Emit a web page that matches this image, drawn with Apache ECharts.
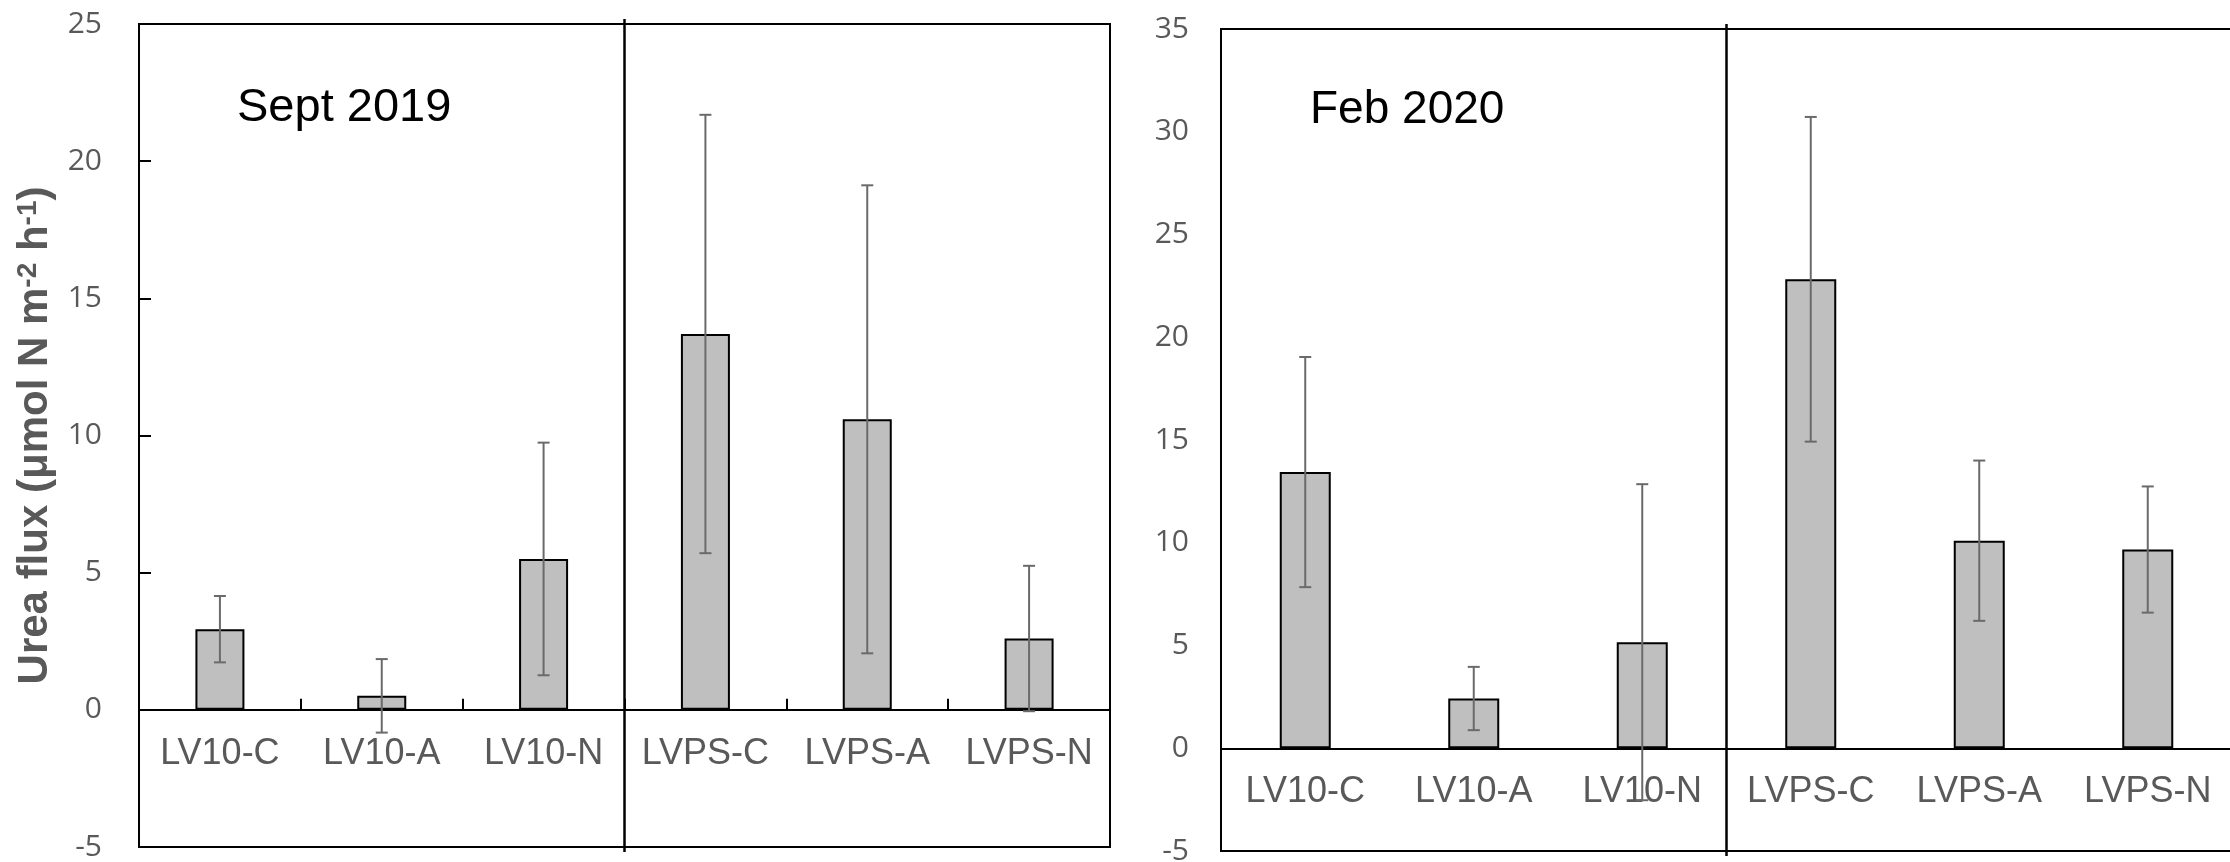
<!DOCTYPE html>
<html>
<head>
<meta charset="utf-8">
<script src="https://cdn.jsdelivr.net/npm/echarts@6/dist/echarts.min.js"></script>
<style>
html,body{margin:0;padding:0;background:#fff;}
#chart{width:2230px;height:862px;}
</style>
</head>
<body>
<div id="chart"></div>
<script>
// ---- data ----
const categories = ['LV10-C', 'LV10-A', 'LV10-N', 'LVPS-C', 'LVPS-A', 'LVPS-N'];
const septMean = [2.94, 0.51, 5.50, 13.70, 10.59, 2.60];
const septErr  = [1.21, 1.34, 4.24, 7.99, 8.53, 2.65];
const febMean  = [13.44, 2.42, 5.16, 22.82, 10.10, 9.67];
const febErr   = [5.60, 1.54, 7.69, 7.90, 3.90, 3.07];
const panelTitles = ['Sept 2019', 'Feb 2020'];
const septAxis = { min: -5, max: 25, interval: 5 };
const febAxis  = { min: -5, max: 35, interval: 5 };
const siteSplit = [2, 3]; // divider between LV10 and LVPS groups
const yTitle = '{b|Urea flux (μmol N m}{s|-2}{b| h}{s|-1}{b|)}';

const GRAY = '#595959';
const AX_FONT = 'Liberation Sans, Arial, sans-serif';
const NUM_FONT = 'Open Sans, sans-serif';

const grids = [
  { left: 139, top: 24, width: 971, height: 823 },
  { left: 1221, top: 29, width: 1011, height: 822 }
];

function errRender(params, api) {
  const i = api.value(0), m = api.value(1), e = api.value(2);
  const top = api.coord([i, m + e]);
  const bot = api.coord([i, m - e]);
  const cw = 6;
  const st = { stroke: '#6a6a6a', lineWidth: 2 };
  return {
    type: 'group',
    children: [
      { type: 'line', shape: { x1: top[0], y1: top[1], x2: bot[0], y2: bot[1] }, style: st },
      { type: 'line', shape: { x1: top[0] - cw, y1: top[1], x2: top[0] + cw, y2: top[1] }, style: st },
      { type: 'line', shape: { x1: bot[0] - cw, y1: bot[1], x2: bot[0] + cw, y2: bot[1] }, style: st }
    ]
  };
}

function dividerRender(params, api) {
  const cs = params.coordSys;
  const a = api.coord([api.value(0), 0]);
  const b = api.coord([api.value(1), 0]);
  const x = (a[0] + b[0]) / 2;
  return {
    type: 'line',
    shape: { x1: x, y1: cs.y - 5, x2: x, y2: cs.y + cs.height + 5 },
    style: { stroke: '#000', lineWidth: 2.5 }
  };
}

function xAxisCfg(gi, ax, withTicks) {
  // place the category axis on the zero line of its value axis
  const zeroOffset = -grids[gi].height * (0 - ax.min) / (ax.max - ax.min);
  return {
    type: 'category', gridIndex: gi, data: categories,
    position: 'bottom', offset: zeroOffset,
    axisLine: { onZero: false, lineStyle: { color: '#000', width: 2 } },
    axisTick: { show: withTicks, inside: true, length: 11, lineStyle: { color: '#000', width: 2 } },
    axisLabel: { color: GRAY, fontSize: 36, fontFamily: AX_FONT, margin: 26, interval: 0 },
    splitLine: { show: false }
  };
}

function yAxisCfg(gi, ax, withTicks, margin, withName) {
  const c = {
    type: 'value', gridIndex: gi, min: ax.min, max: ax.max, interval: ax.interval,
    axisLine: { show: false },
    axisTick: { show: withTicks, inside: true, length: 12, lineStyle: { color: '#000', width: 2 } },
    axisLabel: { color: GRAY, fontSize: 30, fontFamily: NUM_FONT, margin: margin },
    splitLine: { show: false }
  };
  if (withName) {
    c.name = yTitle;
    c.nameLocation = 'middle';
    c.nameRotate = 90;
    c.nameGap = 83;
    c.nameTextStyle = {
      color: GRAY, fontWeight: 'bold', fontFamily: AX_FONT, fontSize: 42,
      rich: {
        b: { color: GRAY, fontWeight: 'bold', fontFamily: AX_FONT, fontSize: 42 },
        s: { color: GRAY, fontWeight: 'bold', fontFamily: AX_FONT, fontSize: 28, verticalAlign: 'top' }
      }
    };
  }
  return c;
}

const chart = echarts.init(document.getElementById('chart'), null, { renderer: 'canvas' });
chart.setOption({
  backgroundColor: '#fff',
  animation: false,
  title: [
    { text: panelTitles[0], left: 232, top: 80, textStyle: { color: '#000', fontSize: 47, fontWeight: 'normal', fontFamily: AX_FONT } },
    { text: panelTitles[1], left: 1305, top: 82, textStyle: { color: '#000', fontSize: 46, fontWeight: 'normal', fontFamily: AX_FONT } }
  ],
  grid: grids.map(g => Object.assign({
    show: true, borderColor: '#000', borderWidth: 2, outerBoundsMode: 'none', containLabel: false
  }, g)),
  xAxis: [xAxisCfg(0, septAxis, true), xAxisCfg(1, febAxis, false)],
  yAxis: [yAxisCfg(0, septAxis, true, 37, true), yAxisCfg(1, febAxis, false, 32, false)],
  series: [
    { type: 'bar', xAxisIndex: 0, yAxisIndex: 0, data: septMean, barWidth: 49,
      itemStyle: { color: '#bfbfbf', borderColor: '#000', borderWidth: 2 } },
    { type: 'bar', xAxisIndex: 1, yAxisIndex: 1, data: febMean, barWidth: 51,
      itemStyle: { color: '#bfbfbf', borderColor: '#000', borderWidth: 2 } },
    { type: 'custom', xAxisIndex: 0, yAxisIndex: 0, renderItem: errRender, z: 5,
      data: categories.map((c, i) => [i, septMean[i], septErr[i]]) },
    { type: 'custom', xAxisIndex: 1, yAxisIndex: 1, renderItem: errRender, z: 5,
      data: categories.map((c, i) => [i, febMean[i], febErr[i]]) },
    { type: 'custom', xAxisIndex: 0, yAxisIndex: 0, renderItem: dividerRender, z: 6, clip: false,
      data: [siteSplit] },
    { type: 'custom', xAxisIndex: 1, yAxisIndex: 1, renderItem: dividerRender, z: 6, clip: false,
      data: [siteSplit] }
  ]
});
</script>
</body>
</html>
